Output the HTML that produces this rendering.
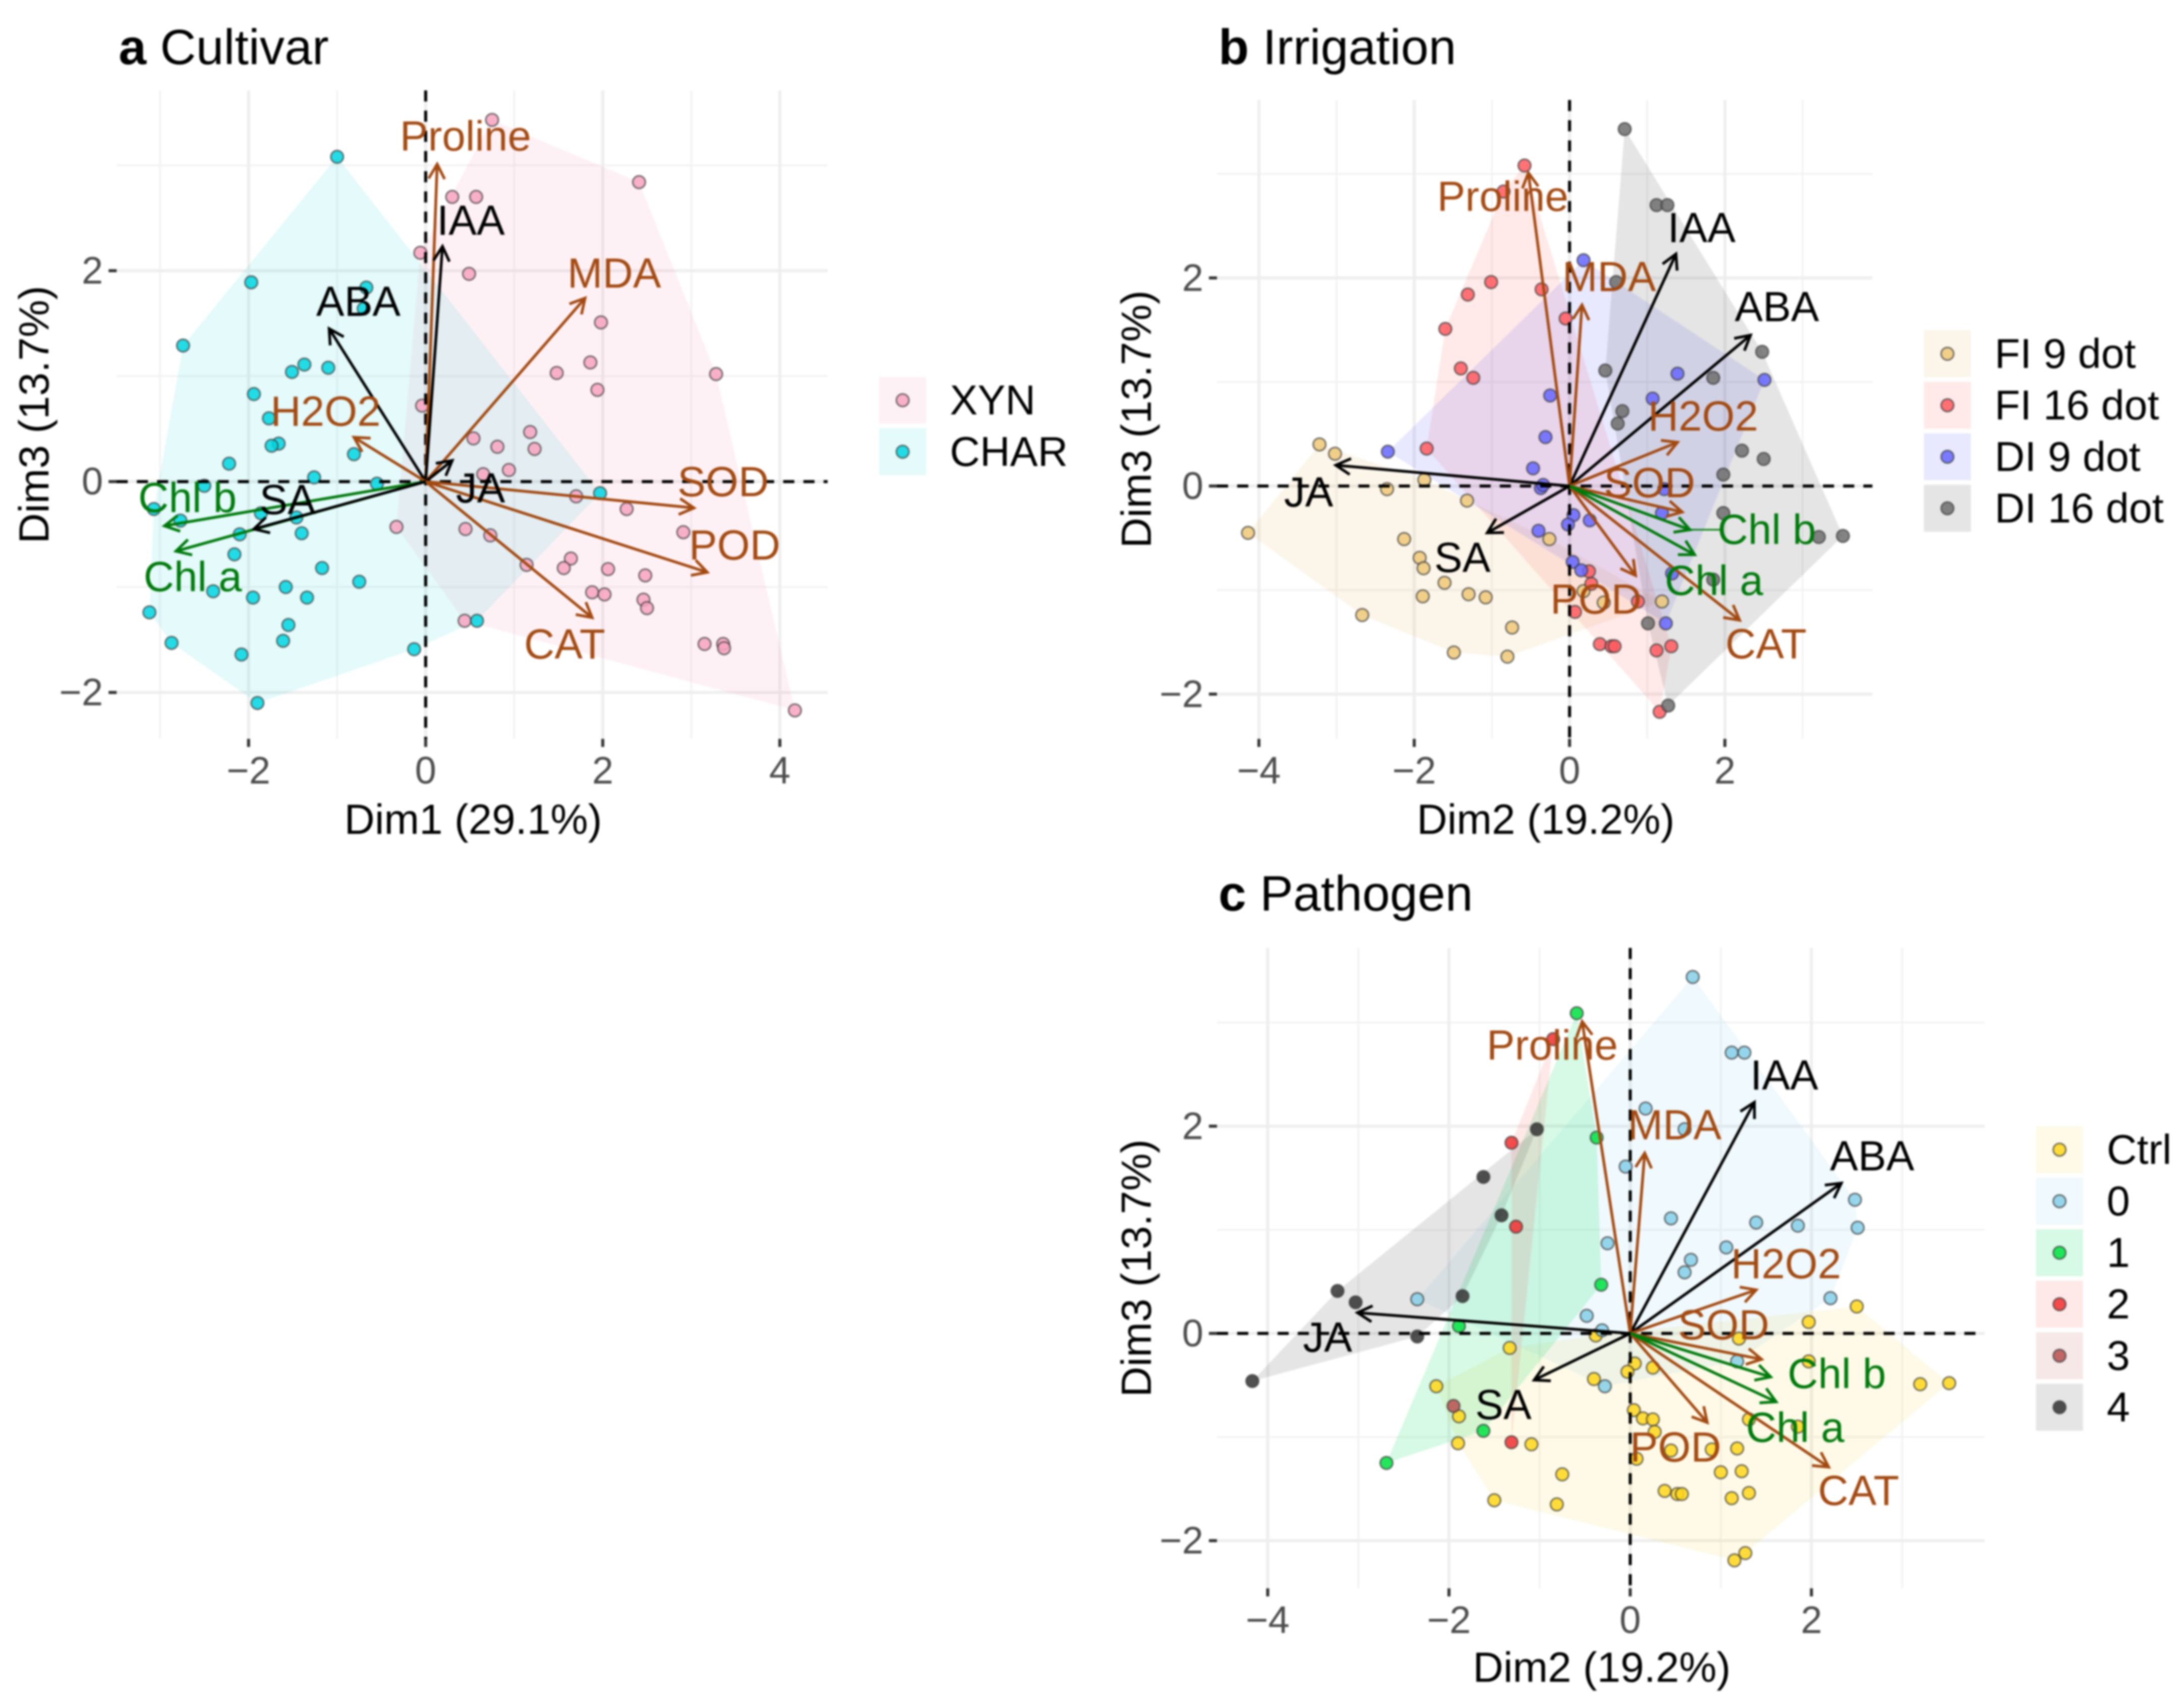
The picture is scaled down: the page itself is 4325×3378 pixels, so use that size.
<!DOCTYPE html>
<html lang="en">
<head>
<meta charset="utf-8">
<title>PCA biplots: Cultivar, Irrigation, Pathogen</title>
<style>
html,body{margin:0;padding:0;background:#fff;}
body{width:4325px;height:3378px;overflow:hidden;}
svg{display:block;filter:blur(1.9px);}
text{font-family:"Liberation Sans",sans-serif;}
</style>
</head>
<body>
<svg id="figure" xmlns="http://www.w3.org/2000/svg" width="4325" height="3378" viewBox="0 0 4325 3378">
  <rect width="4325" height="3378" fill="#fff"/>

  <text x="235" y="127" font-size="98.5" fill="#000"><tspan font-weight="bold">a</tspan> Cultivar</text>
  <text x="2413" y="127" font-size="98.5" fill="#000"><tspan font-weight="bold">b</tspan> Irrigation</text>
  <text x="2413" y="1803" font-size="98.5" fill="#000"><tspan font-weight="bold">c</tspan> Pathogen</text>

  <text x="937" y="1622" font-size="83.5" text-anchor="middle" dominant-baseline="central">Dim1 (29.1%)</text>
  <text x="3061" y="1622" font-size="83.5" text-anchor="middle" dominant-baseline="central">Dim2 (19.2%)</text>
  <text x="3172" y="3301" font-size="83.5" text-anchor="middle" dominant-baseline="central">Dim2 (19.2%)</text>
  <text transform="translate(67 821) rotate(-90)" font-size="83.5" text-anchor="middle" dominant-baseline="central">Dim3 (13.7%)</text>
  <text transform="translate(2250 830) rotate(-90)" font-size="83.5" text-anchor="middle" dominant-baseline="central">Dim3 (13.7%)</text>
  <text transform="translate(2250 2511) rotate(-90)" font-size="83.5" text-anchor="middle" dominant-baseline="central">Dim3 (13.7%)</text>
</svg>

<script>
/* ---------- Variable loadings ---------- */
const variableNames = ['Proline','IAA','MDA','ABA','H2O2','JA','SOD','POD','CAT','Chl b','Chl a','SA'];
const variableGroups = ['stress','hormone','stress','hormone','stress','hormone','stress','stress','stress','pigment','pigment','hormone'];
const loadDim1 = [0.13,0.19,1.80,-1.09,-0.81,0.30,3.03,3.18,1.88,-2.95,-2.82,-1.94];
const loadDim2 = [-0.53,1.37,0.16,2.33,1.39,-3.01,1.45,0.85,2.19,1.55,1.61,-1.06];
const loadDim3 = [3.01,2.23,1.74,1.45,0.42,0.20,-0.25,-0.86,-1.29,-0.42,-0.66,-0.45];

/* label nudges from arrow tips, in data units */
const nudgeAX = [0.32,0.32,0.33,0.33,-0.32,0.32,0.33,0.31,-0.31,0.26,0.19,0.38];
const nudgeAY = [0.26,0.24,0.23,0.25,0.24,-0.27,0.24,0.25,-0.26,0.26,-0.25,0.27];
const nudgeBX = [-0.33,0.33,0.35,0.34,0.33,-0.35,-0.42,-0.51,0.34,0.99,0.25,-0.32];
const nudgeBY = [-0.25,0.23,0.25,0.25,0.23,-0.28,0.26,-0.25,-0.25,-0.02,-0.27,-0.26];
const nudgeCX = [-0.33,0.33,0.33,0.34,0.33,-0.33,-0.42,-0.35,0.33,0.73,0.21,-0.34];
const nudgeCY = [-0.25,0.24,0.25,0.24,0.23,-0.26,0.31,-0.26,-0.25,0.01,-0.27,-0.26];

/* ---------- Panel a: Cultivar (Dim1, Dim3) ---------- */
const xynDim1 = [0.75,2.41,0.30,0.57,-0.06,0.49,1.98,3.28,1.86,1.48,1.94,-0.04,0.54,0.81,1.18,1.23,0.94,0.65,1.70,2.27,2.91,-0.33,0.45,0.73,1.64,1.56,1.14,2.06,2.48,1.88,2.02,2.46,2.50,0.44,3.15,3.36,3.37,4.17];
const xynDim3 = [3.43,2.84,2.70,2.70,2.17,1.97,1.51,1.02,1.13,1.03,0.87,0.72,0.41,0.33,0.47,0.31,0.11,0.07,-0.14,-0.26,-0.48,-0.43,-0.45,-0.51,-0.73,-0.82,-0.79,-0.83,-0.89,-1.05,-1.07,-1.12,-1.20,-1.32,-1.54,-1.54,-1.58,-2.17];
const charDim1 = [-1.00,-1.97,-0.67,-0.70,-2.74,-1.37,-1.51,-1.10,-1.94,-1.77,-1.66,-1.74,-0.81,-2.22,-1.26,-2.50,-0.55,1.97,-3.07,-2.77,-1.86,-1.46,-2.10,-1.40,-2.16,-1.17,-0.75,-1.58,-2.40,-1.34,-1.95,-3.12,-1.55,0.58,-1.61,-2.87,-2.08,-0.13,-1.90];
const charDim3 = [3.08,1.89,1.84,1.64,1.29,1.11,1.04,1.08,0.83,0.60,0.36,0.34,0.26,0.17,0.04,-0.04,-0.02,-0.11,-0.26,-0.37,-0.30,-0.34,-0.50,-0.49,-0.69,-0.82,-0.95,-1.00,-1.04,-1.10,-1.10,-1.24,-1.36,-1.32,-1.51,-1.53,-1.64,-1.59,-2.10];

/* ---------- Panel b: Irrigation (Dim2, Dim3) ---------- */
const fi9Dim2 = [-4.14,-3.22,-3.02,-2.35,-1.87,-1.32,-2.13,-1.93,-1.88,-1.61,-1.30,-1.08,-1.89,-2.67,-0.74,-1.49,-0.80,-0.26,1.19,0.18,0.44];
const fi9Dim3 = [-0.45,0.40,0.31,-0.03,0.06,-0.14,-0.51,-0.69,-0.79,-0.93,-1.04,-1.07,-1.06,-1.24,-1.36,-1.60,-1.64,-0.51,-1.11,-1.01,-1.12];
const fi16Dim2 = [-0.58,-0.85,-1.01,-0.36,-1.31,-0.05,-1.60,-1.40,-1.24,-1.84,0.25,0.28,0.88,0.07,0.39,0.54,0.58,1.12,1.31,1.16];
const fi16Dim3 = [3.08,2.83,1.96,1.89,1.84,1.61,1.51,1.13,1.04,0.36,-0.82,-0.94,-1.11,-1.21,-1.52,-1.54,-1.54,-1.58,-1.54,-2.17];
const di9Dim2 = [0.18,-0.25,-2.34,-0.31,-0.47,-0.37,-0.34,0.05,0.26,-0.02,-0.40,0.04,0.15,1.24,1.32,1.19,1.22,1.07,1.39,2.51];
const di9Dim3 = [2.17,0.87,0.33,0.47,0.17,-0.02,0.01,-0.28,-0.33,-0.37,-0.43,-0.73,-0.81,-1.32,-0.84,-0.26,-0.03,0.84,1.08,1.02];
const di16Dim2 = [0.71,1.12,1.26,0.60,0.46,1.85,2.48,0.68,0.62,2.22,2.50,1.98,1.98,3.21,3.52,1.85,1.01,1.27];
const di16Dim3 = [3.43,2.70,2.70,1.96,1.11,1.04,1.29,0.72,0.60,0.34,0.26,0.11,-0.26,-0.49,-0.48,-0.90,-1.32,-2.11];

/* ---------- Panel c: Pathogen (Dim2, Dim3) ---------- */
const ctrlDim2 = [2.50,1.97,1.20,-0.38,-1.33,0.05,0.25,-0.03,-0.40,1.97,3.20,3.52,-2.14,-1.89,0.04,0.14,0.25,0.27,1.31,1.85,-1.90,-1.09,0.07,0.45,0.90,1.18,-0.75,1.00,1.23,0.38,0.52,0.57,1.12,1.31,-1.50,-0.81,1.27,1.15];
const ctrlDim3 = [0.26,0.11,-0.05,-0.02,-0.14,-0.29,-0.33,-0.37,-0.44,-0.27,-0.49,-0.48,-0.51,-0.80,-0.74,-0.82,-0.83,-0.95,-0.83,-0.90,-1.06,-1.07,-1.21,-1.13,-1.12,-1.11,-1.36,-1.34,-1.33,-1.52,-1.55,-1.55,-1.59,-1.54,-1.61,-1.65,-2.12,-2.19];
const path0Dim2 = [0.69,1.12,1.26,0.17,0.60,-0.05,2.48,2.51,0.45,1.39,1.85,-0.25,1.06,0.67,0.60,2.21,-2.35,-0.48,-0.31,-0.28,1.18];
const path0Dim3 = [3.44,2.71,2.71,2.17,1.97,1.61,1.29,1.02,1.11,1.07,1.04,0.87,0.83,0.71,0.59,0.34,0.33,0.17,0.03,-0.51,-0.27];
const path1Dim2 = [-0.59,-0.37,-0.32,-1.89,-1.62,-2.69];
const path1Dim3 = [3.09,1.89,0.47,0.07,-0.94,-1.25];
const path2Dim2 = [-0.85,-1.31,-1.26,-1.31];
const path2Dim3 = [2.84,1.84,1.03,-1.05];
const path3Dim2 = [-1.95];
const path3Dim3 = [-0.70];
const path4Dim2 = [-1.03,-1.62,-1.42,-3.23,-3.03,-1.85,-2.35,-4.17];
const path4Dim3 = [1.97,1.51,1.14,0.41,0.30,0.36,-0.03,-0.46];

/* ---------- Axis tick values ---------- */
const ticksDim1 = [-2,0,2,4];
const ticksDim2 = [-4,-2,0,2];
const ticksDim3 = [-2,0,2];
const minorDim1 = [-3,-1,1,3];
const minorDim2 = [-3,-1,1,3];
const minorDim3 = [-1,1,3];

const svg = document.getElementById('figure');
const NS = 'http://www.w3.org/2000/svg';
const variableColors = {stress:'#a34a12', hormone:'#000000', pigment:'#007a0c'};

function node(tag, attrs, parent){
  const el = document.createElementNS(NS, tag);
  for (const k in attrs) el.setAttribute(k, attrs[k]);
  (parent || svg).appendChild(el);
  return el;
}
function linearScale(domain, range){
  return v => range[0] + (v - domain[0]) * (range[1] - range[0]) / (domain[1] - domain[0]);
}
function convexHull(pts){
  const p = pts.slice().sort((a,b)=>a[0]-b[0]||a[1]-b[1]);
  if (p.length < 3) return p;
  const cross=(o,a,b)=>(a[0]-o[0])*(b[1]-o[1])-(a[1]-o[1])*(b[0]-o[0]);
  const lo=[], up=[];
  for (const q of p){ while(lo.length>1&&cross(lo[lo.length-2],lo[lo.length-1],q)<=0) lo.pop(); lo.push(q); }
  for (const q of p.slice().reverse()){ while(up.length>1&&cross(up[up.length-2],up[up.length-1],q)<=0) up.pop(); up.push(q); }
  return lo.slice(0,-1).concat(up.slice(0,-1));
}
const fmtTick = v => (v < 0 ? '\u2212' + Math.abs(v) : String(v));

function drawPanel(cfg){
  const g = node('g', {});
  
  
  const X = linearScale(cfg.xDomain, cfg.xRange);
  const Y = linearScale(cfg.yDomain, cfg.yRange);
  const [L,R] = cfg.xRange, [B,T] = cfg.yRange;

  /* grid */
  cfg.xMinor.forEach(v=>{
    const el = node('line',{x1:X(v),x2:X(v),y1:T,y2:B,stroke:'#f2f2f2','stroke-width':3.5},g);
    
    
  });
  cfg.yMinor.forEach(v=>{
    const el = node('line',{x1:L,x2:R,y1:Y(v),y2:Y(v),stroke:'#f2f2f2','stroke-width':3.5},g);
    
    
  });
  cfg.xTicks.forEach(v=>{
    const el = node('line',{x1:X(v),x2:X(v),y1:T,y2:B,stroke:'#eeeeee','stroke-width':6},g);
    
    
    const tick = node('line',{x1:X(v),x2:X(v),y1:B,y2:B+16,stroke:'#333','stroke-width':6},g);
    
    
    const lab = node('text',{x:X(v),y:B+63,'font-size':76,fill:'#4d4d4d','text-anchor':'middle','dominant-baseline':'central'},g);
    
    
    lab.textContent = fmtTick(v);
  });
  cfg.yTicks.forEach(v=>{
    const el = node('line',{x1:L,x2:R,y1:Y(v),y2:Y(v),stroke:'#eeeeee','stroke-width':6},g);
    
    
    const tick = node('line',{x1:L-16,x2:L,y1:Y(v),y2:Y(v),stroke:'#333','stroke-width':6},g);
    
    
    const lab = node('text',{x:L-27,y:Y(v),'font-size':76,fill:'#4d4d4d','text-anchor':'end','dominant-baseline':'central'},g);
    
    
    lab.textContent = fmtTick(v);
  });

  /* hulls */
  cfg.groups.forEach(gr=>{
    const pts = gr.xs.map((x,i)=>[X(x),Y(gr.ys[i])]);
    if (pts.length < 3) return;
    const el = node('polygon',{points:convexHull(pts).map(p=>p.join(',')).join(' '),fill:gr.color,'fill-opacity':gr.hullAlpha},g);
    
    
  });

  /* points */
  cfg.groups.forEach(gr=>{
    gr.xs.forEach((x,i)=>{
      const el = node('circle',{cx:X(x),cy:Y(gr.ys[i]),r:12.5,fill:gr.pointColor,'fill-opacity':0.85,stroke:'#3a3a3a','stroke-opacity':0.7,'stroke-width':3},g);
      
      
    });
  });

  /* reference lines */
  const h0 = node('line',{x1:L,x2:R,y1:Y(0),y2:Y(0),stroke:'#000','stroke-width':6,'stroke-dasharray':'22 18'},g);
  
  
  const v0 = node('line',{x1:X(0),x2:X(0),y1:T,y2:B,stroke:'#000','stroke-width':6,'stroke-dasharray':'22 18'},g);
  
  

  /* arrows */
  variableNames.forEach((name,i)=>{
    const color = variableColors[variableGroups[i]];
    const x0 = X(0), y0 = Y(0), x1 = X(cfg.loadX[i]), y1 = Y(cfg.loadY[i]);
    const a = Math.atan2(y1-y0, x1-x0), hl = 33, sp = 0.5;
    const d = 'M'+x0+' '+y0+'L'+x1+' '+y1+
      'M'+(x1-hl*Math.cos(a-sp))+' '+(y1-hl*Math.sin(a-sp))+'L'+x1+' '+y1+'L'+(x1-hl*Math.cos(a+sp))+' '+(y1-hl*Math.sin(a+sp));
    const el = node('path',{d:d,fill:'none',stroke:color,'stroke-width':5.5},g);
    
    
    if (cfg.connector === name){
      const c = node('line',{x1:x1,y1:y1,x2:X(cfg.loadX[i]+cfg.nudgeX[i]*0.42),y2:Y(cfg.loadY[i]),stroke:color,'stroke-width':3},g);
      
      
    }
  });
  variableNames.forEach((name,i)=>{
    const color = variableColors[variableGroups[i]];
    const t = node('text',{x:X(cfg.loadX[i]+cfg.nudgeX[i]),y:Y(cfg.loadY[i]+cfg.nudgeY[i])+cfg.labelShift,'font-size':83.5,fill:color,'text-anchor':'middle','dominant-baseline':'central'},g);
    
    
    t.textContent = name;
  });

  /* legend */
  cfg.groups.forEach((gr,i)=>{
    const top = cfg.legendTop + i * cfg.legendStep;
    const key = node('rect',{x:cfg.legendX,y:top,width:93,height:cfg.legendStep-9,fill:gr.color,'fill-opacity':gr.hullAlpha},g);
    
    
    const dot = node('circle',{cx:cfg.legendX+46.5,cy:top+(cfg.legendStep-9)/2,r:12.5,fill:gr.pointColor,'fill-opacity':0.85,stroke:'#3a3a3a','stroke-opacity':0.7,'stroke-width':3},g);
    
    
    const txt = node('text',{x:cfg.legendX+140,y:top+(cfg.legendStep-9)/2,'font-size':82.5,fill:'#000','dominant-baseline':'central'},g);
    
    
    txt.textContent = gr.label;
  });
}

drawPanel({
  id:'a', xDomain:[-3.49,4.54], xRange:[231,1639], yDomain:[-2.44,3.71], yRange:[1463,179],
  xTicks:ticksDim1, yTicks:ticksDim3, xMinor:minorDim1, yMinor:minorDim3,
  loadX:loadDim1, loadY:loadDim3, nudgeX:nudgeAX, nudgeY:nudgeAY, labelShift:-2,
  legendX:1741, legendTop:746, legendStep:102,
  groups:[
    {key:'xyn',label:'XYN',xs:xynDim1,ys:xynDim3,color:'#f06a98',hullAlpha:0.095,pointColor:'#f7a3bf'},
    {key:'char',label:'CHAR',xs:charDim1,ys:charDim3,color:'#00d0dc',hullAlpha:0.105,pointColor:'#00d5e0'}
  ]
});
drawPanel({
  id:'b', xDomain:[-4.54,3.90], xRange:[2410,3708], yDomain:[-2.43,3.71], yRange:[1463,198],
  xTicks:ticksDim2, yTicks:ticksDim3, xMinor:minorDim2, yMinor:minorDim3,
  loadX:loadDim2, loadY:loadDim3, nudgeX:nudgeBX, nudgeY:nudgeBY, connector:'Chl b', labelShift:-5,
  legendX:3810, legendTop:654, legendStep:102,
  groups:[
    {key:'fi-9-dot',label:'FI 9 dot',xs:fi9Dim2,ys:fi9Dim3,color:'#e8b050',hullAlpha:0.12,pointColor:'#eec878'},
    {key:'fi-16-dot',label:'FI 16 dot',xs:fi16Dim2,ys:fi16Dim3,color:'#ff2a2a',hullAlpha:0.10,pointColor:'#ff5a5f'},
    {key:'di-9-dot',label:'DI 9 dot',xs:di9Dim2,ys:di9Dim3,color:'#1a1aff',hullAlpha:0.10,pointColor:'#6666ff'},
    {key:'di-16-dot',label:'DI 16 dot',xs:di16Dim2,ys:di16Dim3,color:'#333333',hullAlpha:0.13,pointColor:'#6e6e6e'}
  ]
});
drawPanel({
  id:'c', xDomain:[-4.56,3.91], xRange:[2410,3930], yDomain:[-2.46,3.72], yRange:[3145,1877],
  xTicks:ticksDim2, yTicks:ticksDim3, xMinor:minorDim2, yMinor:minorDim3,
  loadX:loadDim2, loadY:loadDim3, nudgeX:nudgeCX, nudgeY:nudgeCY, labelShift:-5,
  legendX:4032, legendTop:2230, legendStep:102,
  groups:[
    {key:'ctrl',label:'Ctrl',xs:ctrlDim2,ys:ctrlDim3,color:'#f5d020',hullAlpha:0.11,pointColor:'#ffd61a'},
    {key:'0',label:'0',xs:path0Dim2,ys:path0Dim3,color:'#6cc5ea',hullAlpha:0.10,pointColor:'#85cfe8'},
    {key:'1',label:'1',xs:path1Dim2,ys:path1Dim3,color:'#00e060',hullAlpha:0.16,pointColor:'#00e040'},
    {key:'2',label:'2',xs:path2Dim2,ys:path2Dim3,color:'#ff3030',hullAlpha:0.11,pointColor:'#f03030'},
    {key:'3',label:'3',xs:path3Dim2,ys:path3Dim3,color:'#c04a4a',hullAlpha:0.13,pointColor:'#b85050'},
    {key:'4',label:'4',xs:path4Dim2,ys:path4Dim3,color:'#333333',hullAlpha:0.13,pointColor:'#333333'}
  ]
});
</script>
</body>
</html>
